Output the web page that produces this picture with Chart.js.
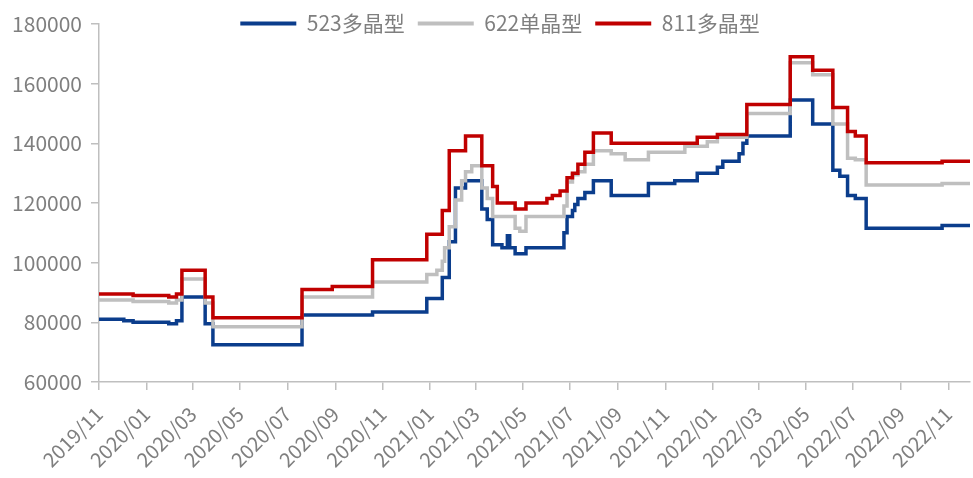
<!DOCTYPE html>
<html>
<head>
<meta charset="utf-8">
<script src="https://cdn.jsdelivr.net/npm/chart.js@4.4.1/dist/chart.umd.min.js"></script>
<style>
  html, body { margin: 0; padding: 0; background: #fff; }
  #priceChart { display: block; }
</style>
</head>
<body>
<canvas id="priceChart" width="973" height="478"></canvas>
<script>
// Price history, one row per price change (value holds until the next date)
const seriesNames = ['523多晶型', '622单晶型', '811多晶型'];
const seriesColors = ['#0B3D8C', '#BFBFBF', '#C00000'];

const priceDates = [
  '2019-11-01', '2019-12-03', '2019-12-15', '2020-01-30', '2020-02-09', '2020-02-16', '2020-03-17', '2020-03-27', '2020-07-20', '2020-08-28',
  '2020-10-19', '2020-12-28', '2021-01-10', '2021-01-17', '2021-01-20', '2021-01-26', '2021-02-03', '2021-02-11', '2021-02-16', '2021-02-24',
  '2021-03-09', '2021-03-16', '2021-03-23', '2021-03-29', '2021-04-04', '2021-04-11', '2021-04-14', '2021-04-21', '2021-04-27', '2021-05-05',
  '2021-06-01', '2021-06-08', '2021-06-18', '2021-06-23', '2021-06-27', '2021-07-04', '2021-07-07', '2021-07-11', '2021-07-20', '2021-07-31',
  '2021-08-23', '2021-09-10', '2021-10-10', '2021-11-13', '2021-11-26', '2021-12-12', '2021-12-25', '2022-01-07', '2022-01-14', '2022-02-04',
  '2022-02-09', '2022-02-14', '2022-04-11', '2022-05-10', '2022-06-05', '2022-06-14', '2022-06-24', '2022-07-04', '2022-07-18', '2022-10-24',
  '2022-11-29'
];

const price523 = [
  81000, 80500, 80000, 79500, 80500, 88500, 79500, 72500, 82500, 82500,
  83500, 88000, 88000, 95000, 95000, 107000, 125000, 125000, 127500, 127500,
  118000, 114500, 106000, 106000, 105000, 109000, 105000, 103000, 103000, 105000,
  105000, 105000, 105000, 110000, 115500, 117500, 119500, 121500, 123500, 127500,
  122500, 122500, 126500, 127500, 127500, 130000, 130000, 132000, 134000, 136500,
  140000, 142500, 154500, 146500, 131000, 129000, 122500, 121500, 111500, 112500,
  112500
];

const price622 = [
  87500, 87500, 87000, 86500, 87500, 94500, 86500, 78500, 88500, 88500,
  93500, 96000, 97500, 100500, 105000, 112000, 121000, 127500, 130500, 132500,
  125000, 121500, 115500, 115500, 115500, 115500, 115500, 111500, 110500, 115500,
  115500, 115500, 115500, 119000, 127000, 129500, 129500, 130500, 133000, 137500,
  136500, 134500, 137000, 137000, 139000, 139000, 140500, 142000, 142000, 142000,
  142000, 150000, 167000, 163000, 146500, 146500, 135000, 134500, 126000, 126500,
  126500
];

const price811 = [
  89500, 89500, 89000, 88500, 89500, 97500, 88500, 81500, 91000, 92000,
  101000, 109500, 109500, 117500, 117500, 137500, 137500, 137500, 142500, 142500,
  132500, 132500, 125500, 120000, 120000, 120000, 120000, 118000, 118000, 120000,
  121500, 122500, 124000, 124000, 128500, 130000, 130000, 133000, 137000, 143500,
  140000, 140000, 140000, 140000, 140000, 142000, 142000, 143000, 143000, 143000,
  143000, 153000, 169000, 164500, 152000, 152000, 144000, 142500, 133500, 134000,
  134000
];

const tickLabels = [
  '2019/11', '2020/01', '2020/03', '2020/05', '2020/07', '2020/09', '2020/11',
  '2021/01', '2021/03', '2021/05', '2021/07', '2021/09', '2021/11',
  '2022/01', '2022/03', '2022/05', '2022/07', '2022/09', '2022/11'
];

// days since epoch, works for 'YYYY-MM-DD' and 'YYYY/MM'
function dayOf(s) {
  const y = +s.slice(0, 4), m = +s.slice(5, 7), d = +s.slice(8, 10) || 1;
  return Date.UTC(y, m - 1, d) / 86400000;
}

const xDays = priceDates.map(dayOf);
const tickDays = tickLabels.map(dayOf);
const FONT = "'Noto Sans CJK SC', 'Noto Sans', sans-serif";
const AXIS_GREY = '#BFBFBF';
const TEXT_GREY = '#7F7F7F';

function toPoints(values) {
  return values.map((v, i) => ({ x: xDays[i], y: v }));
}

const allSeries = [price523, price622, price811];

// legend sits on the top edge of the plot, so move it after layout
const legendNudge = {
  id: 'legendNudge',
  afterLayout(chart) {
    const lg = chart.legend;
    lg.top += 20; lg.bottom += 20;
    lg.left += 15; lg.right += 15;
  }
};

new Chart(document.getElementById('priceChart'), {
  type: 'line',
  data: {
    datasets: allSeries.map((vals, i) => ({
      label: seriesNames[i],
      data: toPoints(vals),
      borderColor: seriesColors[i],
      backgroundColor: seriesColors[i],
      borderWidth: 3.5,
      pointRadius: 0,
      stepped: true,
      fill: false,
      order: 3 - i
    }))
  },
  options: {
    responsive: false,
    animation: false,
    devicePixelRatio: 1,
    layout: { padding: { top: -20, right: 3, left: 0, bottom: 0 } },
    plugins: {
      tooltip: { enabled: false },
      legend: {
        position: 'top',
        labels: {
          boxWidth: 56,
          boxHeight: 4,
          padding: 13,
          color: TEXT_GREY,
          font: { family: FONT, size: 21 },
          sort: (a, b) => a.datasetIndex - b.datasetIndex,
          generateLabels(chart) {
            return Chart.defaults.plugins.legend.labels.generateLabels(chart)
              .map(item => Object.assign(item, { lineWidth: 0 }));
          }
        }
      }
    },
    scales: {
      x: {
        type: 'linear',
        min: xDays[0],
        max: xDays[xDays.length - 1],
        afterBuildTicks(axis) {
          axis.ticks = tickDays.map(v => ({ value: v }));
        },
        afterFit(axis) {
          axis.height = 96;
          axis.paddingLeft = 0;
          axis.paddingRight = 0;
        },
        grid: { drawOnChartArea: false, drawTicks: true, tickLength: 8, color: AXIS_GREY, lineWidth: 1.5 },
        border: { display: true, color: AXIS_GREY, width: 1.5 },
        ticks: {
          autoSkip: false,
          minRotation: 45,
          maxRotation: 45,
          padding: 12,
          color: TEXT_GREY,
          font: { family: FONT, size: 20 },
          callback: (v) => tickLabels[tickDays.indexOf(v)] ?? ''
        }
      },
      y: {
        min: 60000,
        max: 180000,
        afterFit(axis) { axis.width = 99; },
        grid: { drawOnChartArea: false, drawTicks: true, tickLength: 8, color: AXIS_GREY, lineWidth: 1.5 },
        border: { display: true, color: AXIS_GREY, width: 1.5 },
        ticks: {
          stepSize: 20000,
          padding: 9,
          color: TEXT_GREY,
          font: { family: FONT, size: 21 },
          callback: (v) => String(v)
        }
      }
    }
  },
  plugins: [legendNudge]
});
</script>
</body>
</html>
